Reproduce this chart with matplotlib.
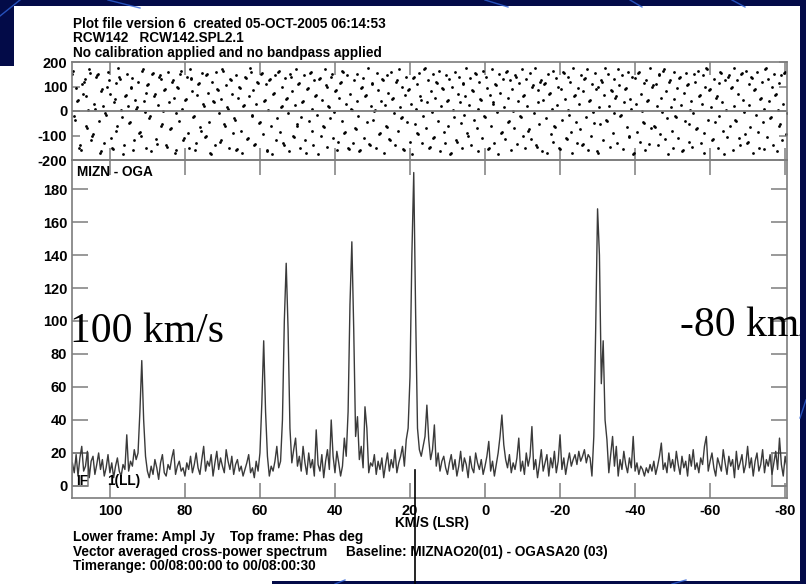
import numpy as np
import matplotlib
matplotlib.use("Agg")
import matplotlib.pyplot as plt
from matplotlib.patches import Polygon, Rectangle
from matplotlib.lines import Line2D
from matplotlib.transforms import Bbox, TransformedBbox

plt.rcParams['font.family'] = ['Liberation Sans', 'DejaVu Sans']
plt.rcParams['font.weight'] = 'bold'
plt.rcParams['axes.unicode_minus'] = False

W, H = 806, 584

# channel grids, km/s (LSR), descending
amp_v0, amp_dv = 110.0, 0.5
phs_v0, phs_dv = 110.0, 0.25

# lower frame: vector averaged amplitude, Jy
amplitude = [
    14, 8, 19, 6, 17, 24, 9, 12, 21, 5, 15, 18, 7, 13, 20, 10, 16, 6, 11, 19,
    8, 14, 5, 12, 17, 9, 6, 13, 10, 31, 9, 15, 12, 22, 16, 20, 45, 76, 40, 18,
    9, 5, 12, 7, 16, 11, 4, 14, 19, 8, 6, 13, 10, 17, 22, 7, 12, 15, 9, 11,
    6, 14, 10, 18, 8, 13, 20, 11, 7, 16, 24, 9, 15, 12, 19, 6, 14, 21, 10, 17,
    12, 8, 22, 15, 10, 18, 7, 13, 16, 9, 12, 6, 10, 14, 19, 8, 11, 5, 15, 9,
    20, 50, 88, 45, 18, 6, 12, 9, 15, 24, 11, 15, 40, 100, 135, 95, 35, 14, 22, 29,
    12, 18, 9, 24, 14, 7, 20, 11, 16, 6, 34, 13, 9, 19, 5, 15, 22, 10, 40, 18,
    8, 21, 14, 6, 12, 29, 18, 45, 110, 148, 95, 30, 42, 16, 24, 11, 48, 35, 8, 14,
    12, 19, 7, 15, 10, 17, 5, 13, 20, 9, 16, 11, 22, 8, 14, 18, 24, 12, 28, 35,
    66, 140, 190, 105, 35, 22, 18, 24, 30, 49, 28, 16, 22, 37, 12, 20, 9, 15, 18, 11,
    7, 14, 19, 10, 16, 6, 12, 21, 9, 17, 13, 5, 18, 11, 8, 20, 14, 10, 16, 7,
    12, 18, 27, 9, 15, 6, 13, 20, 30, 43, 25, 16, 11, 19, 8, 14, 10, 17, 29, 9,
    15, 7, 20, 12, 18, 36, 10, 16, 5, 13, 22, 9, 14, 19, 6, 17, 11, 21, 8, 15,
    31, 10, 17, 7, 14, 20, 12, 16, 19, 13, 21, 15, 18, 22, 14, 19, 17, 6, 30, 95,
    168, 140, 62, 88, 40, 28, 8, 19, 30, 12, 24, 6, 16, 10, 21, 13, 8, 17, 11, 30,
    9, 14, 7, 12, 10, 6, 11, 8, 13, 9, 15, 7, 12, 18, 26, 10, 14, 8, 20, 11,
    16, 9, 21, 13, 7, 18, 11, 15, 6, 19, 12, 22, 10, 14, 8, 17, 13, 24, 30, 9,
    15, 20, 11, 6, 17, 13, 9, 22, 14, 7, 18, 12, 16, 5, 21, 10, 14, 19, 8, 13,
    24, 11, 17, 6, 15, 20, 9, 13, 22, 8, 16, 12, 19, 7, 14, 21, 10, 29, 13, 6,
    18, 11,
]

# top frame: phase, degrees
phase = [
    150, 162, -20, -35, 95, 40, 45, -150, -140, -160, 110, 70, 120, 130, 60, -60, -70, 5, 170, 155,
    -120, -100, -95, 30, 10, 140, 145, 150, -40, -170, -165, 80, 90, 20, -130, -10, -15, 100, 160, 125,
    70, -110, -150, -155, 35, 50, 115, -80, -60, 175, 140, 130, 5, -25, -175, -140, 60, 65, 150, 20,
    -50, -45, 95, 100, 135, -160, -120, 45, 10, 15, 120, -90, -85, -100, 165, 170, 40, -5, -150, 75,
    105, 110, -30, -20, -165, 150, 155, 60, 70, -115, -135, 25, 140, 145, 130, -60, -55, 0, 85, 90,
    -140, -145, 160, 35, -75, -70, 120, 125, 55, -170, -160, -10, 100, 95, -40, 150, 165, 10, -120, -110,
    45, 50, 140, -90, -150, 170, 130, 135, 80, -25, -20, -160, -130, 65, 110, 115, -65, -80, 155, 30,
    20, -105, -100, 145, 150, 75, -45, -170, -175, 120, 40, 35, -140, 160, 90, 85, -10, -125, -120, 50,
    170, 165, -55, -60, 105, 15, 10, -150, 130, 125, 70, -90, -30, -35, 145, -160, -155, 55, 100, 95,
    -80, -170, 20, 25, 140, 135, -115, -110, 60, 175, 160, -20, -15, 85, -140, -135, 30, 120, 115, -50,
    -45, 150, 155, -95, 40, 45, 110, -160, -165, 5, 125, 130, -60, -175, 70, 75, 145, -120, -30, 160,
    165, -85, 15, 20, 100, -130, -140, 135, 50, 55, -10, -165, 150, 140, 80, -100, -105, 25, 170, -60,
    -55, 110, 115, -150, -25, 35, 40, 145, -120, -170, 90, 95, -40, 155, 160, 10, -80, -140, 125, 60,
    65, -15, -175, 130, 135, -100, 45, -60, -65, 170, 105, 100, -145, 20, 15, -30, 140, 150, -110, -5,
    80, 85, -160, -125, 55, 115, 120, -40, 165, 160, -90, -85, 30, 145, -150, -155, 70, 10, 5, -130,
    125, -70, -75, 150, 40, -20, -165, -160, 95, 100, 135, -110, 60, 65, -45, 175, -135, -140, 20, 110,
    115, -35, 0, 5, -150, 155, 85, -95, -90, 40, 130, 125, -170, 25, -60, -65, 145, 75, -115, -120,
    160, 50, 55, -10, -140, 120, 125, -80, 170, 15, -30, -25, 100, -155, -160, 65, 140, -45, 85, 90,
    -125, 30, -175, 135, 140, -55, 10, 110, -90, -95, 155, 60, 45, -130, -20, 170, 175, -70, 35, 125,
    -150, -145, 80, -5, 150, -110, -105, 55, 120, 115, -40, 165, -165, 20, 95, 90, -85, -130, 145, 40,
    45, -60, 130, -175, -170, 100, 5, -25, 160, -120, -125, 70, 140, 35, -50, -150, 110, 115, -15, 60,
    175, -90, -100, 25, 135, -140, 85, 80, -35, 155, 150, -70, 10, -165, 120, 50, 45, -110, 165, -20,
    -25, 140, 95, -155, -150, 65, -60, 170, 30, 35, -130, 110, 105, -5, -175, 150, 75, -90, -85, 130,
    15, -115, 160, 165, 55, -45, -40, 125, -160, 90, 0, -70, 145, 140, -135, 40, 115, -20, -25, 170,
    -100, 60, 65, -150, 130, 20, -80, -75, 155, -115, 100, 105, -10, 175, -140, -145, 85, 35, -55, 120,
    125, -165, 45, 110, 115, -30, -170, 150, 70, 75, -95, 10, 165, -125, -60, -65, 135, 25, 100, -150,
    -155, 90, -35, 160, 155, 50, -110, -115, 140, 5, -15, 120, -85, -170, 175, 60, 65, -45, -130, 95,
    30, -75, 145, -140, -135, 80, 130, 135, -25, 170, -160, 40, 45, -100, 110, -5, -50, 155, 90, -165,
    -170, 100, 15, -55, 125, 120, -120, 65, 175, -35, -40, 150, 20, -145, 85, 80, -90, 130, -10, 55,
    60, -130, 170, 105, -20, -15, 145, -155, 35, 90, 95, -65, 160, -105, -100, 50, 10, 140, -175, -170,
    135, 30, -85, 155, 160, -125, 70, 0, -45, -50, 115, -160, 125, 40, 45, -135, 175, -70, 100, 105,
    -60, -65, 110, 20, -140, 145, 150, -95, 55, -5, 165, 170, -115, 80, -30, -175, 120, 125, 15, -80,
    -150, 160, 50, -20, -25, 95, -110, 135, 140, 25, -165, -160, 75, -40, 155, 105, 110, -125, -55, 5,
    40, -145, -10, 150, 120, -75, -70, 165, 60, 65, -130, 30, 145, -170, -90, 100, 175, 170, -35, 85,
    90, 15, -120, -115, 130, -45, 55, 60, -150, 115, -20, 160, 155, 35, -80, -175, 125, 5, -105, 140,
    145, -60, 95, 100, -160, 20, 175, -35, -40, 125, 70, -110, -140, 150, 155, 45, -5, -95, 165, -130,
    -125, 110, 25, -65, 140, 135, -170, 85, 90, -15, 160, -85, -150, 50, 55, 120, -45, 10, -155, 170,
    175, -105, 130, 40, -30, -25, 100, -140, 150, 65, 70, -165, 5, 115, -60, -55, 145, -120, 30, 155,
    160, -95, -10,
]

vel_ticks = [100, 80, 60, 40, 20, 0, -20, -40, -60, -80]
amp_ticks = [0, 20, 40, 60, 80, 100, 120, 140, 160, 180]
phs_ticks = [-200, -100, 0, 100, 200]

header = ["Plot file version 6  created 05-OCT-2005 06:14:53",
          "RCW142   RCW142.SPL2.1",
          "No calibration applied and no bandpass applied"]
footer = ["Lower frame: Ampl Jy    Top frame: Phas deg",
          "Vector averaged cross-power spectrum     Baseline: MIZNAO20(01) - OGASA20 (03)",
          "Timerange: 00/08:00:00 to 00/08:00:30"]

vel_amp = amp_v0 - amp_dv * np.arange(len(amplitude))
vel_phs = phs_v0 - phs_dv * np.arange(len(phase))

GRAY = '#7d7d7d'
XLIM = (110.1, -80.5)
TXT = 9.8


def fx(x):
    return x / W


def fy(y):
    return 1 - y / H


fig = plt.figure(figsize=(W / 100, H / 100), dpi=100)
fig.patch.set_facecolor('#030b48')

# slide backdrop with the white sheet on it
bg = fig.add_axes([0, 0, 1, 1])
bg.set_xlim(0, W)
bg.set_ylim(H, 0)
bg.axis('off')
for xs, ys in [([0, 20], [16, 0]), ([108, 140], [0, 8]), ([485, 508], [0, 7]),
               ([630, 642], [0, 7]), ([732, 745], [0, 7]), ([800, 806], [418, 400]),
               ([335, 345], [584, 580]), ([672, 686], [584, 580])]:
    bg.plot(xs, ys, color='#2f62d8', lw=1.0, alpha=0.8)
sheet = Polygon([(14, 6), (800, 6), (800, 581), (272, 581), (272, 584),
                 (0, 584), (0, 66), (14, 66)], closed=True, fc='white', ec='none')
bg.add_patch(sheet)

# top frame: phase
ax_ph = fig.add_axes([fx(72), fy(160), fx(787) - fx(72), fy(62) - fy(160)])
ax_ph.set_facecolor('none')
ax_ph.plot(vel_phs, phase, 'o', ms=2.0, color='k', mec='none')
ax_ph.axhline(0, color=GRAY, lw=1.3)
ax_ph.set_xlim(*XLIM)
ax_ph.set_ylim(-200, 200)
ax_ph.set_xticks(vel_ticks)
ax_ph.set_xticklabels([])
ax_ph.set_yticks(phs_ticks)
ax_ph.tick_params(axis='x', direction='in', top=True, bottom=True, length=9, width=1.1, color=GRAY)
ax_ph.tick_params(axis='y', direction='in', left=True, right=True, length=6, width=1.1,
                  color=GRAY, labelsize=10.5, pad=3.5)

# lower frame: amplitude
ax_am = fig.add_axes([fx(72), fy(497.5), fx(787) - fx(72), fy(160) - fy(497.5)])
ax_am.set_facecolor('none')
ax_am.plot(vel_amp, amplitude, color='#3a3a3a', lw=1.0)
ax_am.set_xlim(*XLIM)
ax_am.set_ylim(-7, 197.6)
ax_am.set_xticks(vel_ticks)
ax_am.set_xticklabels([str(t) for t in vel_ticks])
ax_am.set_yticks(amp_ticks)
ax_am.tick_params(axis='x', direction='in', top=True, bottom=True, length=11, width=1.1,
                  color=GRAY, labelsize=10.5, pad=4.5)
ax_am.tick_params(axis='y', direction='in', left=True, right=True, length=11.5, width=1.1,
                  color=GRAY, labelsize=10.5, pad=3.5)
ax_am.add_patch(Rectangle((105.9, 0), 4.2, 20, fill=False, ec=GRAY, lw=1.1))
ax_am.add_patch(Rectangle((-80.5, 0), 4.0, 20, fill=False, ec=GRAY, lw=1.1))

for a in (ax_ph, ax_am):
    for s in a.spines.values():
        s.set_color(GRAY)
        s.set_linewidth(1.2)

# annotations
for i, line in enumerate(header):
    fig.text(fx(73), fy(23.5 + 14.5 * i), line, va='center', fontsize=TXT)
for i, line in enumerate(footer):
    fig.text(fx(73), fy(537.5 + 14.2 * i), line, va='center', fontsize=TXT)
fig.text(fx(77), fy(171.5), "MIZN - OGA", va='center', fontsize=TXT)
fig.text(fx(432), fy(523), "KM/S (LSR)", va='center', ha='center', fontsize=TXT)
fig.text(fx(76), fy(481), "IF", va='center', fontsize=TXT)
fig.text(fx(107), fy(481), "1(LL)", va='center', fontsize=TXT)

fig.text(fx(70), fy(332), "100 km/s", va='center', fontsize=30, weight='normal',
         family='Liberation Serif')
t80 = fig.text(fx(680), fy(326), "-80 km/s", va='center', fontsize=30, weight='normal',
               family='Liberation Serif')
t80.set_clip_box(TransformedBbox(Bbox.from_extents(0, 0, fx(800), 1), fig.transFigure))
t80.set_clip_on(True)

fig.add_artist(Line2D([fx(414.5), fx(414.5)], [fy(470), fy(584)], transform=fig.transFigure,
                      color='k', lw=1.2, zorder=4))

fig.savefig("out.png", dpi=100, facecolor=fig.get_facecolor())
